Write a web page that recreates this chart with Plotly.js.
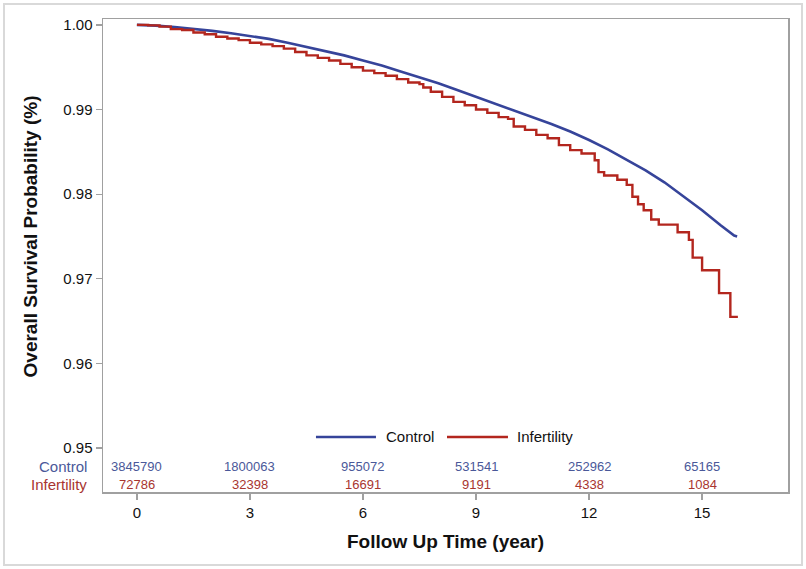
<!DOCTYPE html>
<html>
<head>
<meta charset="utf-8">
<script src="https://cdn.plot.ly/plotly-3.0.1.min.js"></script>
<style>
html,body{margin:0;padding:0;background:#fff;}
#wrap{position:relative;width:806px;height:569px;}
#chart{width:806px;height:569px;}
#frame{position:absolute;left:3px;top:3px;width:796px;height:559px;border:2px solid #d9d9d9;pointer-events:none;}
</style>
</head>
<body>
<div id="wrap"><div id="chart"></div><div id="frame"></div></div>
<script>
// ---- data ----
const ctrlTime = [0,0.5,1,1.5,2,2.5,3,3.5,4,4.5,5,5.5,6,6.5,7,7.5,8,8.5,9,9.5,10,10.5,11,11.5,12,12.5,13,13.5,14,14.5,15,15.5,15.85,15.93];
const ctrlSurv = [1.0000,0.99992,0.99975,0.99955,0.9993,0.99902,0.9987,0.99835,0.9979,0.9974,0.9969,0.9964,0.9958,0.9952,0.9945,0.9938,0.9931,0.9923,0.9915,0.9907,0.9899,0.9891,0.9883,0.9874,0.9864,0.9853,0.9841,0.9828,0.9814,0.9798,0.9781,0.9763,0.9751,0.9750];

const infTime = [0,0.3,0.6,0.9,1.2,1.5,1.8,2.1,2.4,2.7,3.0,3.3,3.6,3.9,4.2,4.5,4.8,5.1,5.4,5.7,6.0,6.3,6.6,6.9,7.2,7.5,7.6,7.8,8.1,8.4,8.7,9.0,9.3,9.6,9.85,10.0,10.3,10.6,10.9,11.2,11.5,11.8,12.15,12.25,12.4,12.75,13.0,13.15,13.3,13.45,13.65,13.85,14.35,14.65,14.75,15.0,15.45,15.75,15.95];
const infSurv = [1.0000,0.99995,0.9998,0.9995,0.9994,0.9991,0.9989,0.9986,0.9984,0.9982,0.9979,0.9977,0.9975,0.9972,0.9968,0.9964,0.9961,0.9958,0.9954,0.9950,0.9946,0.9943,0.9940,0.9936,0.9932,0.9930,0.9926,0.9921,0.9915,0.9909,0.9905,0.9900,0.9896,0.9891,0.9889,0.9880,0.9876,0.9870,0.9866,0.9858,0.9852,0.9848,0.9840,0.9826,0.9822,0.9817,0.9811,0.9797,0.9788,0.9781,0.9770,0.9764,0.9755,0.9746,0.9725,0.9710,0.9683,0.9655,0.9655];

const riskTimes = [0,3,6,9,12,15];
const ctrlRisk = [3845790,1800063,955072,531541,252962,65165];
const infRisk = [72786,32398,16691,9191,4338,1084];

const xTicks = [0,3,6,9,12,15];
const yTicks = [0.95,0.96,0.97,0.98,0.99,1.00];
const yTickText = ['0.95','0.96','0.97','0.98','0.99','1.00'];

const groupNames = ['Control','Infertility'];
const xTitle = 'Follow Up Time (year)';
const yTitle = 'Overall Survival Probability (%)';

// ---- styles ----
const BLUE = '#36449a', RED = '#b3261e';
const BLUE_T = '#4a5899', RED_T = '#a8352f';
const FONT = 'Liberation Sans, Arial, sans-serif';

const traces = [
  {x: ctrlTime, y: ctrlSurv, mode:'lines', line:{color:BLUE, width:2.6, shape:'linear'}, name:groupNames[0], showlegend:false},
  {x: infTime, y: infSurv, mode:'lines', line:{color:RED, width:2.4, shape:'hv'}, name:groupNames[1], showlegend:false}
];

const annotations = [];
riskTimes.forEach((t,i)=>{
  annotations.push({x:t, y:0.0529, xref:'x', yref:'paper', text:String(ctrlRisk[i]), showarrow:false, font:{family:FONT,size:13,color:BLUE_T}, xanchor:'center', yanchor:'middle'});
  annotations.push({x:t, y:0.0148, xref:'x', yref:'paper', text:String(infRisk[i]), showarrow:false, font:{family:FONT,size:13,color:RED_T}, xanchor:'center', yanchor:'middle'});
});
annotations.push({x:-0.0204, y:0.0529, xref:'paper', yref:'paper', text:groupNames[0], showarrow:false, font:{family:FONT,size:15,color:BLUE_T}, xanchor:'right', yanchor:'middle'});
annotations.push({x:-0.0204, y:0.0148, xref:'paper', yref:'paper', text:groupNames[1], showarrow:false, font:{family:FONT,size:15,color:RED_T}, xanchor:'right', yanchor:'middle'});
// legend labels
annotations.push({x:0.4102, y:0.1163, xref:'paper', yref:'paper', text:groupNames[0], showarrow:false, font:{family:FONT,size:15,color:'#111'}, xanchor:'left', yanchor:'middle'});
annotations.push({x:0.6015, y:0.1163, xref:'paper', yref:'paper', text:groupNames[1], showarrow:false, font:{family:FONT,size:15,color:'#111'}, xanchor:'left', yanchor:'middle'});
// axis titles
annotations.push({x:-0.1066, y:0.975, xref:'paper', yref:'y', text:'<b>'+yTitle+'</b>', textangle:-90, showarrow:false, font:{family:FONT,size:19,color:'#111'}, xanchor:'center', yanchor:'middle'});
annotations.push({x:0.5, y:-0.1057, xref:'paper', yref:'paper', text:'<b>'+xTitle+'</b>', showarrow:false, font:{family:FONT,size:19,color:'#111'}, xanchor:'center', yanchor:'middle'});

const shapes = [
  {type:'line', xref:'paper', yref:'paper', x0:0.3109, x1:0.3985, y0:0.1163, y1:0.1163, line:{color:BLUE, width:2.6}},
  {type:'line', xref:'paper', yref:'paper', x0:0.5022, x1:0.5912, y0:0.1163, y1:0.1163, line:{color:RED, width:2.4}}
];

const layout = {
  width:806, height:569,
  margin:{l:103, r:18, t:19, b:77, pad:0},
  paper_bgcolor:'#fff', plot_bgcolor:'#fff',
  showlegend:false,
  font:{family:FONT, size:15, color:'#111'},
  xaxis:{range:[-0.9,17.28], tickvals:xTicks, ticktext:xTicks.map(String), ticks:'outside', ticklen:6, tickwidth:1.2, tickcolor:'#a0a0a0',
         showline:true, mirror:true, linecolor:'#a0a0a0', linewidth:1.5, showgrid:false, zeroline:false, tickfont:{family:FONT,size:15,color:'#111'}},
  yaxis:{range:[0.9448,1.0007], tickvals:yTicks, ticktext:yTickText, ticks:'outside', ticklen:6, tickwidth:1.2, tickcolor:'#a0a0a0',
         showline:true, mirror:true, linecolor:'#a0a0a0', linewidth:1.5, showgrid:false, zeroline:false, tickfont:{family:FONT,size:15,color:'#111'}},
  annotations: annotations,
  shapes: shapes
};

Plotly.newPlot('chart', traces, layout, {displayModeBar:false, staticPlot:true});
</script>
</body>
</html>
